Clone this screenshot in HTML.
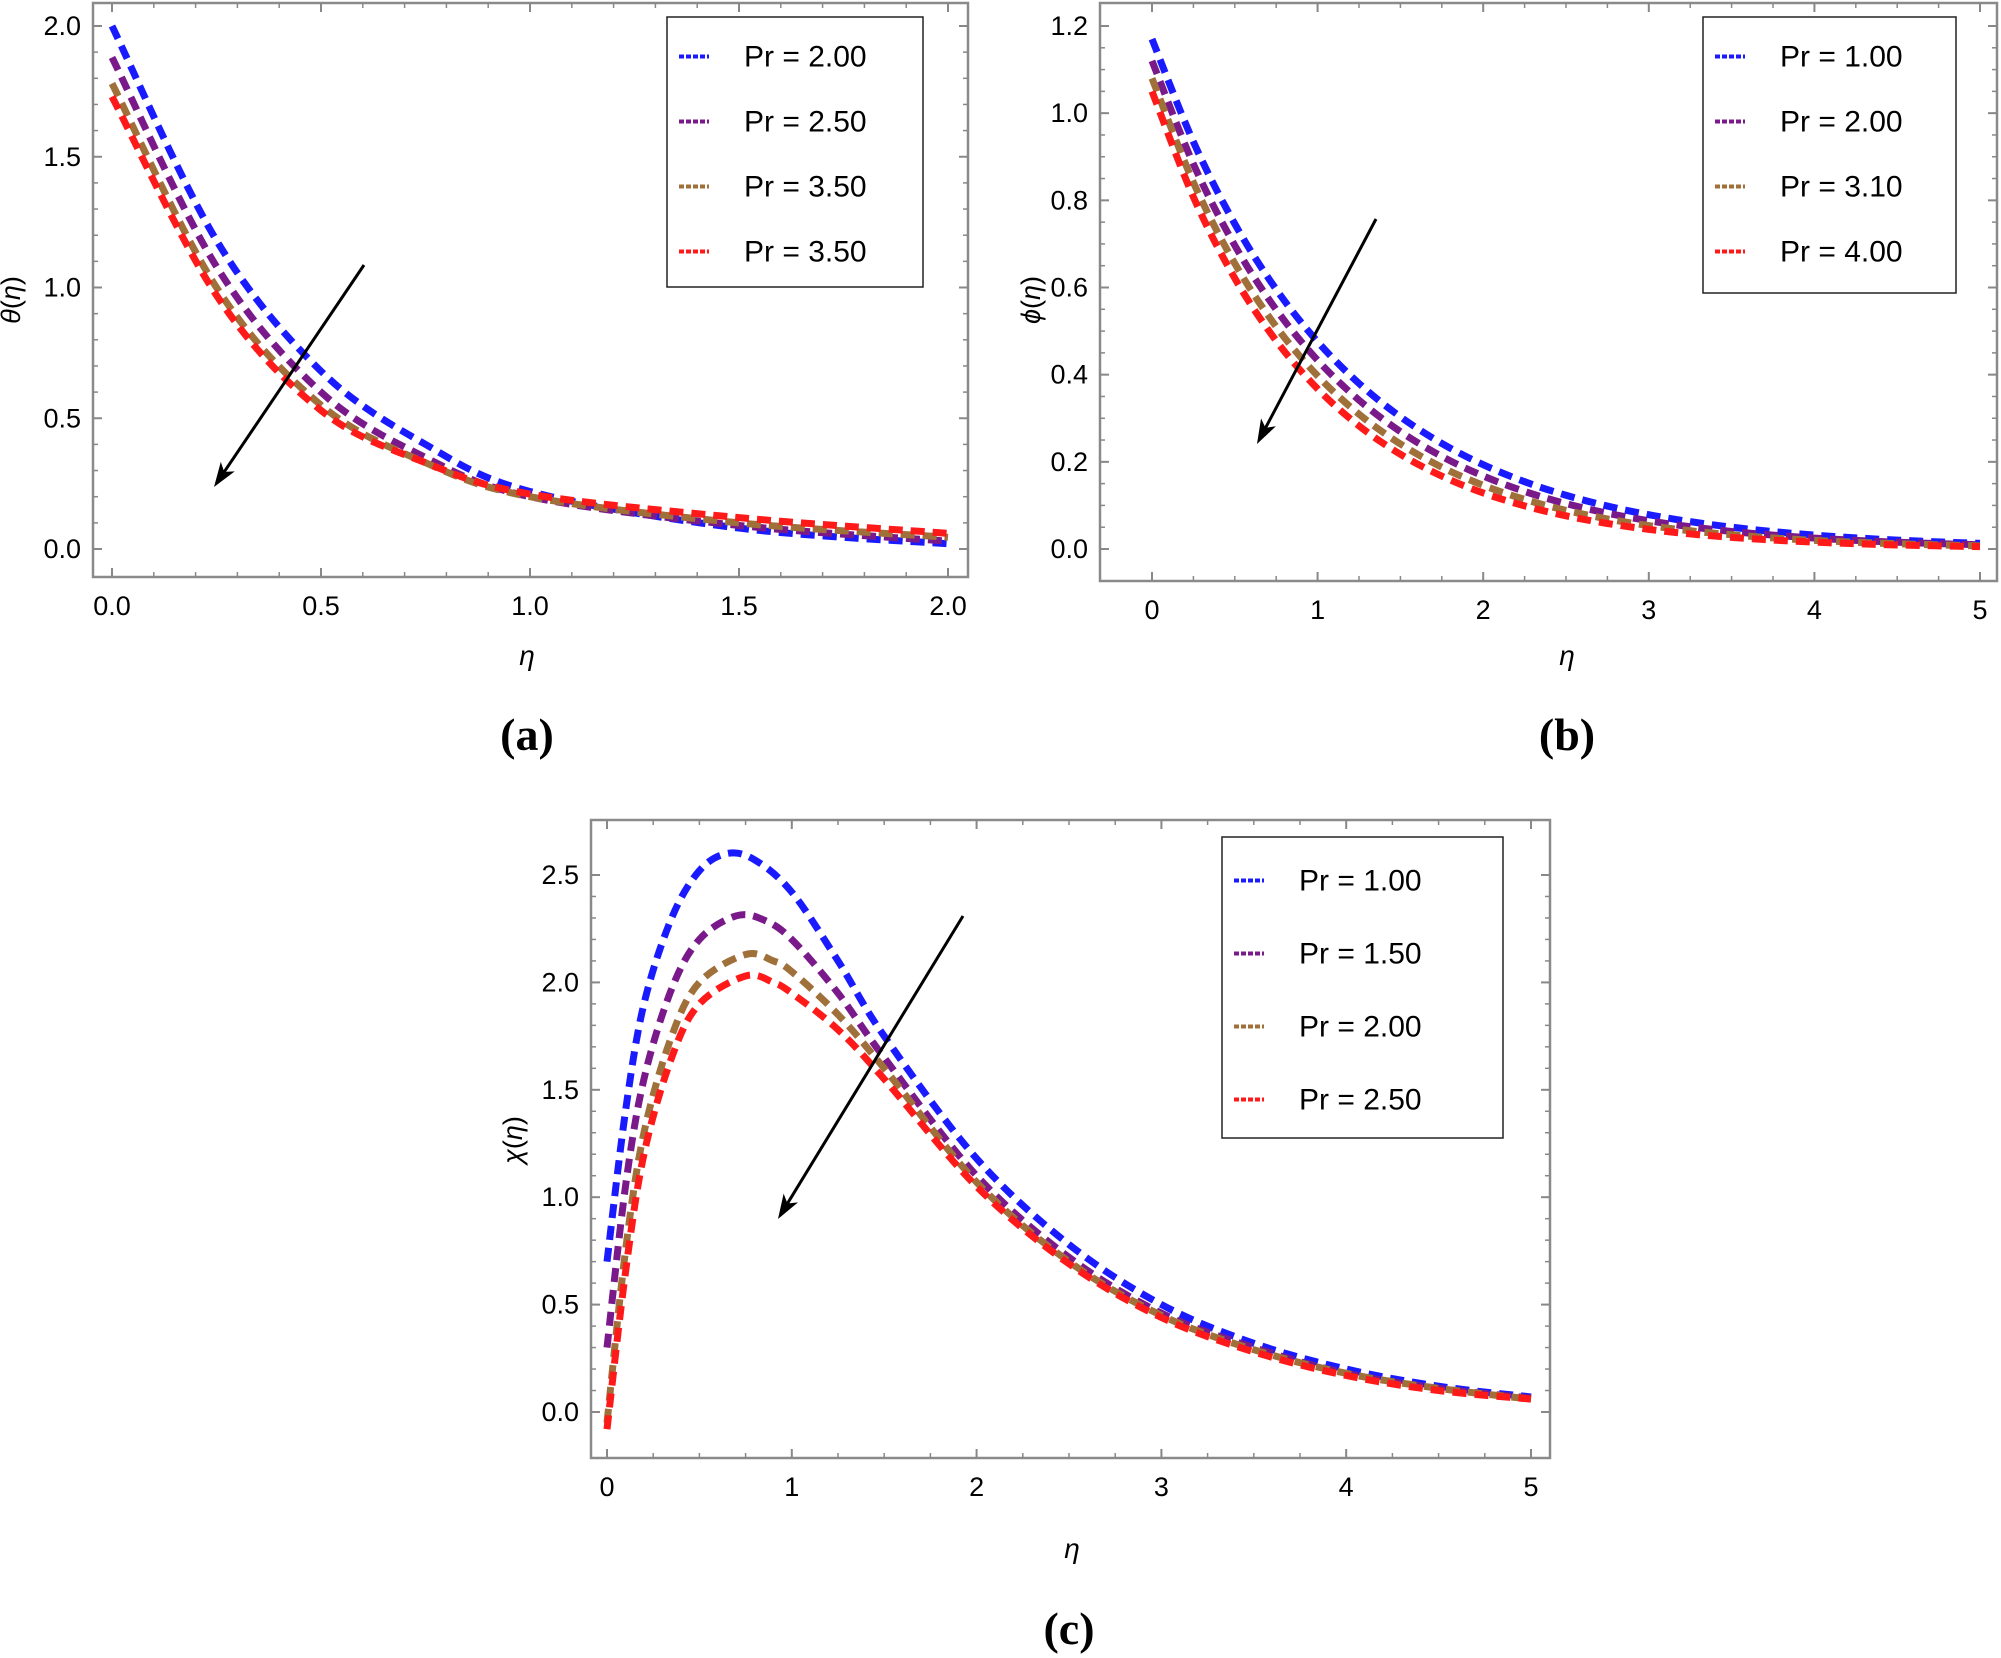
<!DOCTYPE html>
<html><head><meta charset="utf-8"><style>
html,body{margin:0;padding:0;background:#fff}
svg{display:block}
text{font-family:"Liberation Sans",sans-serif}
</style></head><body>
<svg id="s" width="2001" height="1658" xmlns="http://www.w3.org/2000/svg"></svg>
<script>
const S=document.getElementById('s');let h='';
const C={b:'#1a1aff',p:'#7a1a8a',o:'#a0703a',r:'#ff1a1a'};
function panel(P){
 const X=v=>P.x0+(v-P.xmin)/(P.xmax-P.xmin)*(P.x1-P.x0);
 const Y=v=>P.y0+(v-P.ymin)/(P.ymax-P.ymin)*(P.y1-P.y0);
 h+=`<rect x="${P.fx0}" y="${P.fy0}" width="${P.fx1-P.fx0}" height="${P.fy1-P.fy0}" fill="none" stroke="#8a8a8a" stroke-width="2.5"/>`;
 P.xt.forEach(t=>{const x=X(t);h+=`<line x1="${x}" y1="${P.fy1}" x2="${x}" y2="${P.fy1-9}" stroke="#888" stroke-width="2"/><line x1="${x}" y1="${P.fy0}" x2="${x}" y2="${P.fy0+9}" stroke="#888" stroke-width="2"/><text x="${x}" y="${P.fy1+38}" font-size="27" text-anchor="middle">${P.xf(t)}</text>`;});
 for(let t=P.xmin;t<=P.xmax+1e-9;t+=P.xm){const x=X(t);h+=`<line x1="${x}" y1="${P.fy1}" x2="${x}" y2="${P.fy1-5}" stroke="#888" stroke-width="1.5"/><line x1="${x}" y1="${P.fy0}" x2="${x}" y2="${P.fy0+5}" stroke="#888" stroke-width="1.5"/>`;}
 P.yt.forEach(t=>{const y=Y(t);h+=`<line x1="${P.fx0}" y1="${y}" x2="${P.fx0+9}" y2="${y}" stroke="#888" stroke-width="2"/><line x1="${P.fx1}" y1="${y}" x2="${P.fx1-9}" y2="${y}" stroke="#888" stroke-width="2"/><text x="${P.fx0-12}" y="${y+9}" font-size="27" text-anchor="end">${t.toFixed(1)}</text>`;});
 for(let t=P.ymin;t<=P.ymax+1e-9;t+=P.ym){const y=Y(t);h+=`<line x1="${P.fx0}" y1="${y}" x2="${P.fx0+5}" y2="${y}" stroke="#888" stroke-width="1.5"/><line x1="${P.fx1}" y1="${y}" x2="${P.fx1-5}" y2="${y}" stroke="#888" stroke-width="1.5"/>`;}
 P.series.forEach(([c,pts])=>{
  const p=pts.map(q=>[X(q[0]),Y(q[1])]);let d=`M${p[0][0]},${p[0][1]}`;
  for(let i=0;i<p.length-1;i++){const a=p[Math.max(i-1,0)],b=p[i],c2=p[i+1],e=p[Math.min(i+2,p.length-1)];
   d+=`C${b[0]+(c2[0]-a[0])/6},${b[1]+(c2[1]-a[1])/6} ${c2[0]-(e[0]-b[0])/6},${c2[1]-(e[1]-b[1])/6} ${c2[0]},${c2[1]}`;}
  h+=`<path d="${d}" fill="none" stroke="${C[c]}" stroke-width="7" stroke-dasharray="14 8"/>`;});
 const L=P.leg;h+=`<rect x="${L.x0}" y="${L.y0}" width="${L.x1-L.x0}" height="${L.y1-L.y0}" fill="#fff" stroke="#222" stroke-width="1.5"/>`;
 L.items.forEach((t,i)=>{const y=L.y0+L.dy*(i+0.5)+7;h+=`<line x1="${L.x0+12}" y1="${y}" x2="${L.x0+42}" y2="${y}" stroke="${C['bpor'[i]]}" stroke-width="4" stroke-dasharray="5 2"/><text x="${L.x0+77}" y="${y+10}" font-size="30">${t}</text>`;});
 const A=P.arr,ang=Math.atan2(A[3]-A[1],A[2]-A[0]),l=26,w=0.33;
 h+=`<line x1="${A[0]}" y1="${A[1]}" x2="${A[2]-Math.cos(ang)*15}" y2="${A[3]-Math.sin(ang)*15}" stroke="#000" stroke-width="3"/><polygon points="${A[2]},${A[3]} ${A[2]-l*Math.cos(ang-w)},${A[3]-l*Math.sin(ang-w)} ${A[2]-l*Math.cos(ang)*0.7},${A[3]-l*Math.sin(ang)*0.7} ${A[2]-l*Math.cos(ang+w)},${A[3]-l*Math.sin(ang+w)}" fill="#000"/>`;
 h+=`<text x="${P.lx}" y="${P.ly}" font-size="28" font-style="italic" text-anchor="middle">η</text>`;
 h+=`<text transform="translate(${P.yx},${P.yy}) rotate(-90)" font-size="27" text-anchor="middle">${P.yl}</text>`;
 h+=`<text x="${P.cx}" y="${P.cy}" font-size="46" font-weight="bold" text-anchor="middle" style="font-family:'Liberation Serif',serif">${P.cap}</text>`;
}
const ex=(a,k,n)=>{const r=[];for(let i=0;i<=20;i++){const t=i*n/20;r.push([t,a*Math.exp(-k*t)]);}return r;};
panel({fx0:93,fx1:968,fy0:3,fy1:577,x0:112,x1:948,xmin:0,xmax:2,y0:549,y1:26,ymin:0,ymax:2,
 xt:[0,0.5,1,1.5,2],xf:t=>t.toFixed(1),xm:0.1,yt:[0,0.5,1,1.5,2],ym:0.1,
 series:[['b',[[0,2],[.25,1.18],[.5,.68],[.75,.4],[1,.22],[1.5,.08],[2,.02]]],
 ['p',[[0,1.88],[.25,1.08],[.5,.6],[.75,.35],[1,.2],[1.5,.09],[2,.03]]],
 ['o',[[0,1.78],[.25,1.0],[.5,.55],[.75,.33],[1,.2],[1.5,.1],[2,.045]]],
 ['r',[[0,1.73],[.25,.97],[.5,.53],[.75,.33],[1,.21],[1.5,.12],[2,.06]]]],
 leg:{x0:667,x1:923,y0:17,y1:287,dy:65,items:['Pr = 2.00','Pr = 2.50','Pr = 3.50','Pr = 3.50']},
 arr:[364,265,214,487],lx:527,ly:665,yx:20,yy:300,yl:'<tspan font-style="italic">θ</tspan>(<tspan font-style="italic">η</tspan>)',cx:527,cy:750,cap:'(a)'});
panel({fx0:1100,fx1:1997,fy0:3,fy1:581,x0:1152,x1:1980,xmin:0,xmax:5,y0:549,y1:26,ymin:0,ymax:1.2,
 xt:[0,1,2,3,4,5],xf:t=>t,xm:0.25,yt:[0,.2,.4,.6,.8,1,1.2],ym:0.05,
 series:[['b',ex(1.17,.9,5)],['p',ex(1.12,.95,5)],['o',ex(1.08,1.0,5)],['r',ex(1.05,1.05,5)]],
 leg:{x0:1703,x1:1956,y0:17,y1:293,dy:65,items:['Pr = 1.00','Pr = 2.00','Pr = 3.10','Pr = 4.00']},
 arr:[1376,219,1257,444],lx:1567,ly:665,yx:1040,yy:300,yl:'<tspan font-style="italic">ϕ</tspan>(<tspan font-style="italic">η</tspan>)',cx:1567,cy:750,cap:'(b)'});
panel({fx0:591,fx1:1550,fy0:820,fy1:1458,x0:607,x1:1531,xmin:0,xmax:5,y0:1412,y1:875,ymin:0,ymax:2.5,
 xt:[0,1,2,3,4,5],xf:t=>t,xm:0.25,yt:[0,.5,1,1.5,2,2.5],ym:0.1,
 series:[['b',[[0,.7],[.1,1.4],[.2,1.9],[.35,2.3],[.5,2.52],[.65,2.6],[.8,2.57],[1,2.42],[1.25,2.1],[1.5,1.75],[2,1.18],[2.5,.78],[3,.5],[3.5,.32],[4,.2],[4.5,.12],[5,.07]]],
 ['p',[[0,.3],[.1,1.05],[.2,1.55],[.35,1.97],[.5,2.2],[.7,2.31],[.85,2.29],[1,2.2],[1.25,1.95],[1.5,1.65],[2,1.1],[2.5,.72],[3,.46],[3.5,.3],[4,.18],[4.5,.11],[5,.065]]],
 ['o',[[0,-.05],[.1,.75],[.2,1.3],[.35,1.75],[.5,2.0],[.75,2.13],[.9,2.1],[1,2.05],[1.25,1.85],[1.5,1.6],[2,1.07],[2.5,.7],[3,.45],[3.5,.29],[4,.18],[4.5,.11],[5,.06]]],
 ['r',[[0,-.08],[.1,.65],[.2,1.2],[.35,1.65],[.5,1.9],[.75,2.03],[.9,2.0],[1,1.95],[1.25,1.78],[1.5,1.55],[2,1.05],[2.5,.69],[3,.44],[3.5,.28],[4,.17],[4.5,.1],[5,.06]]]],
 leg:{x0:1222,x1:1503,y0:837,y1:1138,dy:73,items:['Pr = 1.00','Pr = 1.50','Pr = 2.00','Pr = 2.50']},
 arr:[963,916,778,1219],lx:1072,ly:1558,yx:522,yy:1140,yl:'<tspan font-style="italic">χ</tspan>(<tspan font-style="italic">η</tspan>)',cx:1069,cy:1644,cap:'(c)'});
S.innerHTML=h;
</script>
</body></html>
